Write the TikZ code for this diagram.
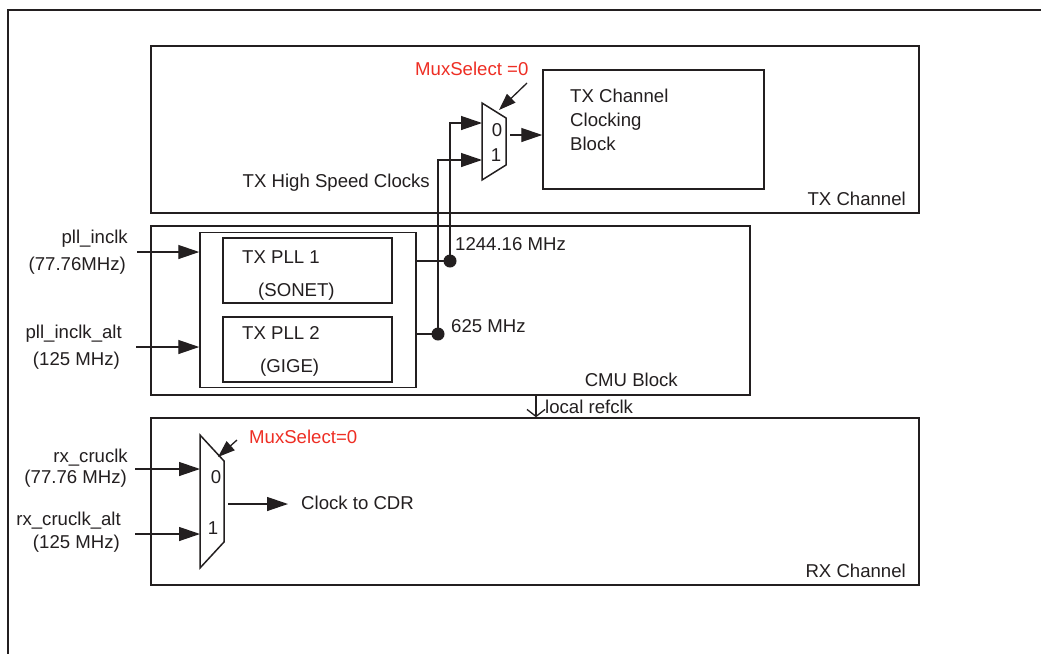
\documentclass[tikz,border=0pt]{standalone}
\usepackage{fontspec}
\setmainfont{Liberation Sans}
\usetikzlibrary{arrows.meta}
\definecolor{lc}{HTML}{231F20}
\definecolor{rc}{HTML}{EE2E24}
\begin{document}
\begin{tikzpicture}[x=1pt,y=-1pt,
  box/.style={draw=lc,line width=1.5pt,inner sep=0pt,rectangle},
  lbl/.style={font=\fontsize{18.6}{24}\selectfont,inner sep=0pt,text=lc},
  redlbl/.style={lbl,text=rc},
  wire/.style={draw=lc,line width=1.3pt},
  arr/.style={wire,-{Triangle[length=21pt,width=14pt]}},
  selarr/.style={wire,-{Triangle[length=17pt,width=12pt]}},
  openarr/.style={wire,-{Straight Barb[length=7pt,width=18pt]}},
  muxshape/.style={draw=lc,line width=1.5pt,line join=miter},
  dotnode/.style={circle,fill=lc,inner sep=0pt,minimum size=13pt}]
\useasboundingbox (0,0) rectangle (1041,654);
\fill[white] (0,0) rectangle (1041,654);
% outer frame
\draw[draw=lc,line width=2.6pt] (1041,10) -- (8,10) -- (8,654);

% ---------------- TX channel ----------------
\node[box,minimum width=768pt,minimum height=167pt] (tx) at (535,129.5) {};
\node[lbl,anchor=east] (txlbl) at (906,199) {TX Channel};
\node[box,minimum width=221pt,minimum height=119pt] (clk) at (653.5,129.5) {};
\node[lbl,anchor=west,align=left] (clktxt) at (570,120) {TX Channel\\Clocking\\Block};

\coordinate (tm1) at (482,103);
\coordinate (tm2) at (506,118);
\coordinate (tm3) at (506,165);
\coordinate (tm4) at (482,180);
\draw[muxshape] (tm1) -- (tm2) -- (tm3) -- (tm4) -- cycle;
\node[lbl] (t0) at (497,130) {0};
\node[lbl] (t1) at (496,155) {1};
\coordinate (tin0) at (482,123);
\coordinate (tin1) at (482,160);
\coordinate (tout) at (510,135);
\draw[arr] (tout) -- (clk.west |- tout);

\node[redlbl,anchor=west] (tsel) at (415,69) {MuxSelect =0};
\coordinate (tself) at (527,83);
\coordinate (tselt) at (499,110);
\draw[selarr] (tself) -- (tselt);

\node[lbl,anchor=east] (hsc) at (430,183) {TX High Speed Clocks};

% ---------------- CMU block ----------------
\node[box,minimum width=599pt,minimum height=169pt] (cmu) at (450.5,310.5) {};
\node[lbl,anchor=east] (cmulbl) at (678,380) {CMU Block};
\node[box,minimum width=216pt,minimum height=155pt] (inner) at (308,310) {};
\node[box,minimum width=169pt,minimum height=65pt] (pll1) at (307.5,270.5) {};
\node[box,minimum width=169pt,minimum height=65pt] (pll2) at (307.5,349.5) {};
\node[lbl,anchor=west] (pll1a) at (242,257) {TX PLL 1};
\node[lbl,anchor=west] (pll1b) at (258,292) {(SONET)};
\node[lbl,anchor=west] (pll2a) at (242,333) {TX PLL 2};
\node[lbl,anchor=west] (pll2b) at (260,368) {(GIGE)};

\node[dotnode] (d1) at (450,261) {};
\node[dotnode] (d2) at (438,334) {};
\draw[wire] (inner.east |- d1) -- (d1.center);
\draw[wire] (inner.east |- d2) -- (d2.center);
\draw[arr] (d1.center) |- (tin0);
\draw[arr] (d2.center) |- (tin1);
\node[lbl,anchor=west] (f1) at (455,244) {1244.16 MHz};
\node[lbl,anchor=west] (f2) at (451,326) {625 MHz};

\node[lbl,anchor=east] (pin1a) at (128,239) {pll\_inclk};
\node[lbl,anchor=east] (pin1b) at (126,266) {(77.76MHz)};
\node[lbl,anchor=east] (pin2a) at (122,334) {pll\_inclk\_alt};
\node[lbl,anchor=east] (pin2b) at (120,361) {(125 MHz)};
\coordinate (pin1) at (137,252);
\coordinate (pin2) at (136,347);
\draw[arr] (pin1) -- (inner.west |- pin1);
\draw[arr] (pin2) -- (inner.west |- pin2);

% ---------------- RX channel ----------------
\node[box,minimum width=768pt,minimum height=167pt] (rx) at (535,501.5) {};
\node[lbl,anchor=east] (rxlbl) at (906,571) {RX Channel};

\coordinate (lr) at (536,0);
\draw[openarr] (cmu.south -| lr) -- (rx.north -| lr);
\node[lbl,anchor=west] (lrlbl) at (545,407) {local refclk};

\coordinate (rm1) at (200,435);
\coordinate (rm2) at (224,461);
\coordinate (rm3) at (224,542);
\coordinate (rm4) at (200,568);
\draw[muxshape] (rm1) -- (rm2) -- (rm3) -- (rm4) -- cycle;
\node[lbl] (r0) at (216,477) {0};
\node[lbl] (r1) at (213,528) {1};
\coordinate (rin0) at (200,469);
\coordinate (rin1) at (200,534);
\coordinate (rsrc0) at (135,469);
\coordinate (rsrc1) at (135,534);
\draw[arr] (rsrc0) -- (rin0);
\draw[arr] (rsrc1) -- (rin1);
\coordinate (rout) at (228,504);
\coordinate (rcdr) at (288,504);
\draw[arr] (rout) -- (rcdr);
\node[lbl,anchor=west] (cdr) at (301,503) {Clock to CDR};

\node[redlbl,anchor=west] (rsel) at (249,437) {MuxSelect=0};
\coordinate (rself) at (237,440);
\coordinate (rselt) at (218,457);
\draw[selarr] (rself) -- (rselt);

\node[lbl,anchor=east] (rxa) at (128,458) {rx\_cruclk};
\node[lbl,anchor=east] (rxb) at (127,479) {(77.76 MHz)};
\node[lbl,anchor=east] (rxc) at (121,521) {rx\_cruclk\_alt};
\node[lbl,anchor=east] (rxd) at (120,544) {(125 MHz)};
\end{tikzpicture}
\end{document}
